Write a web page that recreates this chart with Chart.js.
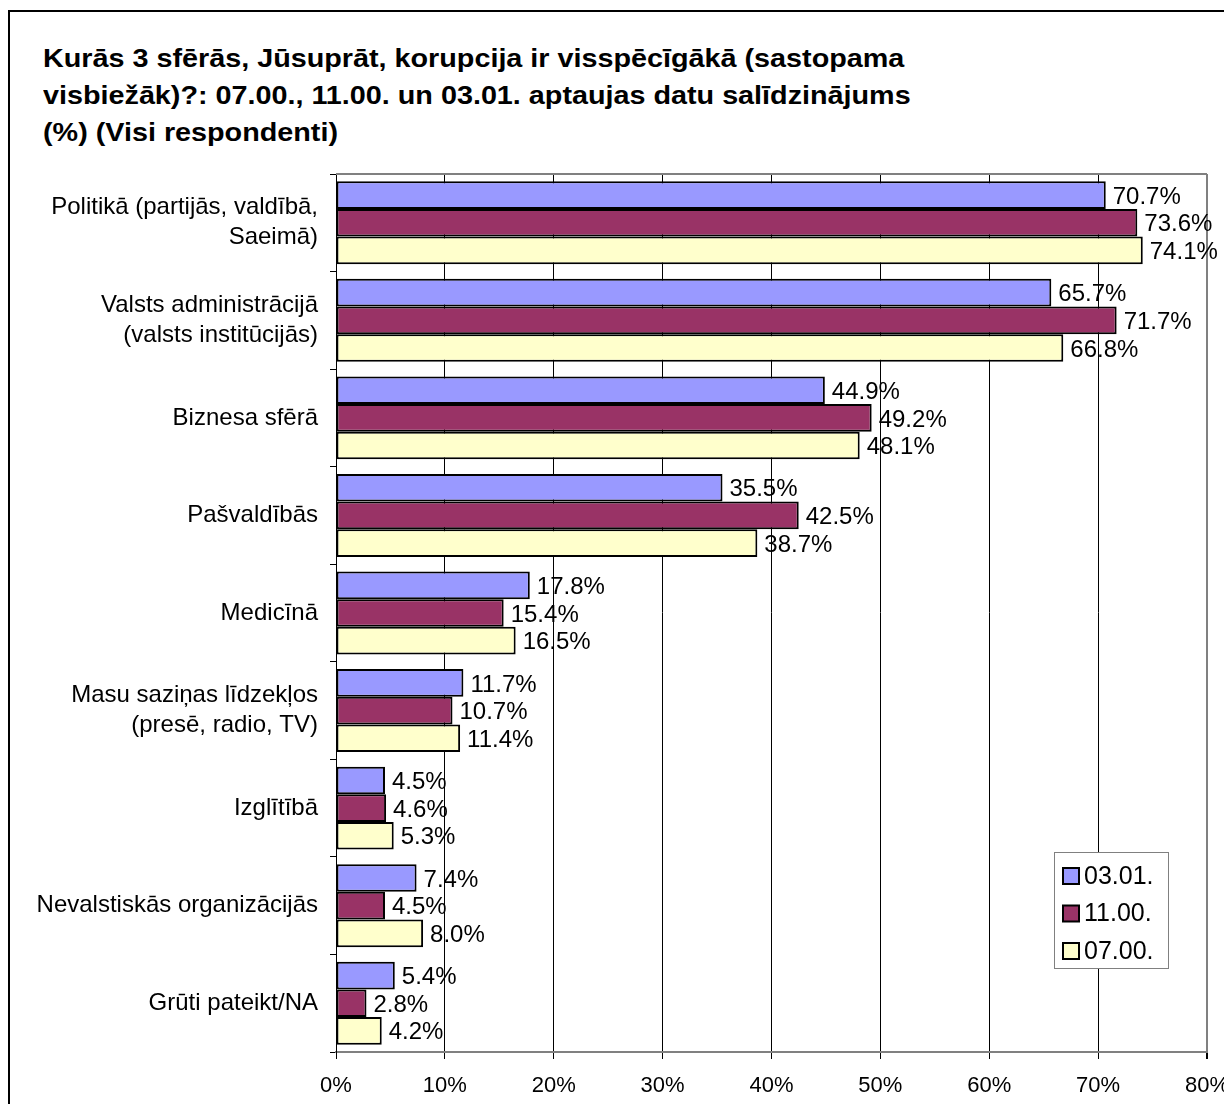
<!DOCTYPE html>
<html>
<head>
<meta charset="utf-8">
<script src="https://cdn.jsdelivr.net/npm/chart.js@4.4.1/dist/chart.umd.min.js"></script>
<style>
  html, body { margin: 0; padding: 0; background: #fff; overflow: hidden; width: 1224px; height: 1104px; }
  #frame { position: absolute; left: 8px; top: 10px; width: 1400px; height: 1300px; border: 2px solid #000; box-sizing: border-box; }
  #title { position: absolute; left: 43px; top: 40px; font: bold 25px "Liberation Sans", Arial, sans-serif; line-height: 37px; color: #000; white-space: nowrap; transform: scaleX(1.15); transform-origin: 0 0; }
  #wrap { position: absolute; left: 0; top: 0; width: 1260px; height: 1104px; }
</style>
</head>
<body>
<div id="frame"></div>
<div id="title">Kurās 3 sfērās, Jūsuprāt, korupcija ir visspēcīgākā (sastopama<br>visbiežāk)?: 07.00., 11.00. un 03.01. aptaujas datu salīdzinājums<br>(%) (Visi respondenti)</div>
<div id="wrap"><canvas id="chart" width="1260" height="1104"></canvas></div>
<script>
var categories = [
    ["Politikā (partijās, valdībā,", "Saeimā)"],
    ["Valsts administrācijā", "(valsts institūcijās)"],
    "Biznesa sfērā",
    "Pašvaldībās",
    "Medicīnā",
    ["Masu saziņas līdzekļos", "(presē, radio, TV)"],
    "Izglītībā",
    "Nevalstiskās organizācijās",
    "Grūti pateikt/NA"
];
var seriesNames = ["03.01.", "11.00.", "07.00."];
var values0301 = [70.7, 65.7, 44.9, 35.5, 17.8, 11.7, 4.5, 7.4, 5.4];
var values1100 = [73.6, 71.7, 49.2, 42.5, 15.4, 10.7, 4.6, 4.5, 2.8];
var values0700 = [74.1, 66.8, 48.1, 38.7, 16.5, 11.4, 5.3, 8.0, 4.2];
var xTicks = [0, 10, 20, 30, 40, 50, 60, 70, 80];

var FONT = '"Liberation Sans", Arial, sans-serif';

// value labels right of each bar
var valueLabels = {
    id: 'valueLabels',
    afterDatasetsDraw: function(chart) {
        var ctx = chart.ctx;
        ctx.save();
        ctx.font = '24px ' + FONT;
        ctx.fillStyle = '#000';
        ctx.textAlign = 'left';
        ctx.textBaseline = 'middle';
        chart.data.datasets.forEach(function(ds, i) {
            chart.getDatasetMeta(i).data.forEach(function(bar, j) {
                ctx.fillText(ds.data[j].toFixed(1) + '%', bar.x + 7, bar.y + 2);
            });
        });
        ctx.restore();
    }
};

// top frame line + boxed legend inside the plot
var frameAndLegend = {
    id: 'frameAndLegend',
    afterDraw: function(chart) {
        var ctx = chart.ctx;
        var a = chart.chartArea;
        ctx.save();
        ctx.strokeStyle = '#808080';
        ctx.lineWidth = 2;
        ctx.beginPath();
        ctx.moveTo(a.left, a.top);
        ctx.lineTo(a.right, a.top);
        ctx.stroke();

        var bx = a.right - 153, by = a.top + 678, bw = 114, bh = 116;
        ctx.fillStyle = '#fff';
        ctx.fillRect(bx, by, bw, bh);
        ctx.lineWidth = 1;
        ctx.strokeStyle = '#808080';
        ctx.strokeRect(bx + 0.5, by + 0.5, bw, bh);
        ctx.font = '25px ' + FONT;
        ctx.textBaseline = 'middle';
        ctx.textAlign = 'left';
        chart.data.datasets.forEach(function(ds, i) {
            var cy = by + 24 + i * 37.5;
            ctx.fillStyle = ds.backgroundColor;
            ctx.fillRect(bx + 9, cy - 8, 16, 16);
            ctx.strokeStyle = '#000';
            ctx.lineWidth = 2;
            ctx.strokeRect(bx + 9, cy - 8, 16, 16);
            ctx.fillStyle = '#000';
            ctx.fillText(ds.label, bx + 30, cy + 1);
        });
        ctx.restore();
    }
};

new Chart(document.getElementById('chart'), {
    type: 'bar',
    data: {
        labels: categories,
        datasets: [
            { label: seriesNames[0], data: values0301, backgroundColor: '#9999FF' },
            { label: seriesNames[1], data: values1100, backgroundColor: '#993366' },
            { label: seriesNames[2], data: values0700, backgroundColor: '#FFFFCC' }
        ]
    },
    options: {
        indexAxis: 'y',
        responsive: false,
        animation: false,
        layout: { padding: { left: 0, top: 174, right: 53, bottom: 0 } },
        datasets: {
            bar: {
                borderColor: '#000',
                borderWidth: 2,
                borderSkipped: false,
                categoryPercentage: 0.85,
                barPercentage: 1.0
            }
        },
        scales: {
            x: {
                min: 0,
                max: 80,
                afterBuildTicks: function(s) {
                    s.ticks = xTicks.map(function(v) { return { value: v }; });
                },
                afterFit: function(s) { s.height = 52; },
                ticks: {
                    color: '#000',
                    font: { family: FONT, size: 22 },
                    padding: 14,
                    maxRotation: 0,
                    callback: function(v) { return v + '%'; }
                },
                grid: {
                    color: function(c) { return c.tick && c.tick.value === 80 ? '#808080' : '#000'; },
                    lineWidth: function(c) { return c.tick && c.tick.value === 80 ? 2 : 1; },
                    tickColor: '#000',
                    tickLength: 7
                },
                border: { color: '#808080', width: 2 }
            },
            y: {
                afterFit: function(s) { s.width = 336; },
                ticks: {
                    color: '#000',
                    font: { family: FONT, size: 24, lineHeight: 1.25 },
                    padding: 12
                },
                grid: {
                    drawOnChartArea: false,
                    tickColor: '#000',
                    tickLength: 6
                },
                border: { color: '#000', width: 1 }
            }
        },
        plugins: {
            legend: { display: false },
            title: { display: false },
            tooltip: { enabled: false }
        }
    },
    plugins: [valueLabels, frameAndLegend]
});
</script>
</body>
</html>
